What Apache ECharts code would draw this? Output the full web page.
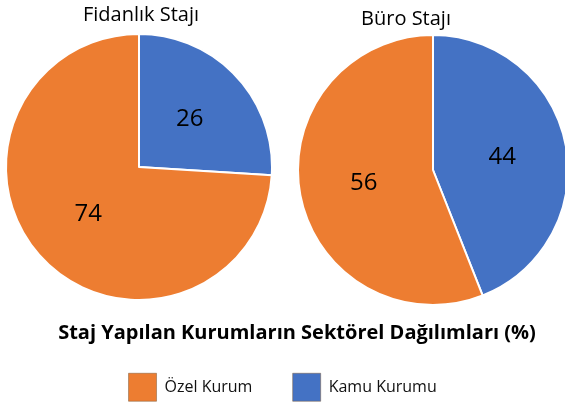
<!DOCTYPE html>
<html>
<head>
<meta charset="utf-8">
<script src="https://cdn.jsdelivr.net/npm/echarts@6/dist/echarts.min.js"></script>
<style>
  html, body { margin: 0; padding: 0; background: #fff; }
  #chart { width: 565px; height: 402px; }
</style>
</head>
<body>
<div id="chart"></div>
<script>
  // veriler (%)
  const categories = ['Kamu Kurumu', 'Özel Kurum'];
  const legendOrder = ['Özel Kurum', 'Kamu Kurumu'];
  const fidanlikValues = [26, 74];
  const buroValues = [44, 56];
  const colors = { 'Kamu Kurumu': '#4472C4', 'Özel Kurum': '#ED7D31' };

  const font = '"Open Sans", "Noto Sans", sans-serif';

  function toData(values) {
    return categories.map((name, i) => ({ name: name, value: values[i] }));
  }

  function pieSeries(name, center, radius, values) {
    return {
      name: name,
      type: 'pie',
      center: center,
      radius: radius,
      startAngle: 90,
      clockwise: true,
      animation: false,
      itemStyle: {
        color: p => colors[p.name],
        borderColor: '#fff',
        borderWidth: 2
      },
      label: {
        show: true,
        position: 'inside',
        formatter: '{c}',
        color: '#000',
        fontSize: 24,
        fontFamily: font
      },
      labelLine: { show: false },
      emphasis: { disabled: true },
      data: toData(values)
    };
  }

  const chart = echarts.init(document.getElementById('chart'));
  chart.setOption({
    backgroundColor: '#fff',
    title: [
      {
        text: 'Fidanlık Stajı',
        left: 136, top: 0, textAlign: 'center',
        textStyle: { fontFamily: font, fontSize: 20, fontWeight: 'normal', color: '#000' }
      },
      {
        text: 'Büro Stajı',
        left: 401, top: 4, textAlign: 'center',
        textStyle: { fontFamily: font, fontSize: 20, fontWeight: 'normal', color: '#000' }
      },
      {
        text: 'Staj Yapılan Kurumların Sektörel Dağılımları (%)',
        left: 292, top: 318, textAlign: 'center',
        textStyle: { fontFamily: font, fontSize: 20, fontWeight: 'bold', color: '#000' }
      }
    ],
    legend: {
      data: legendOrder,
      left: 'center',
      top: 368,
      icon: 'rect',
      itemWidth: 28,
      itemHeight: 28,
      itemGap: 40,
      itemStyle: { borderColor: '#7a5a3a', borderWidth: 0.5 },
      textStyle: { fontFamily: font, fontSize: 16, color: '#111', padding: [0, 0, 0, 3] },
      selectedMode: false
    },
    series: [
      pieSeries('Fidanlık Stajı', [139, 167], 133, fidanlikValues),
      pieSeries('Büro Stajı', [433, 170], 135, buroValues)
    ]
  });
</script>
</body>
</html>
